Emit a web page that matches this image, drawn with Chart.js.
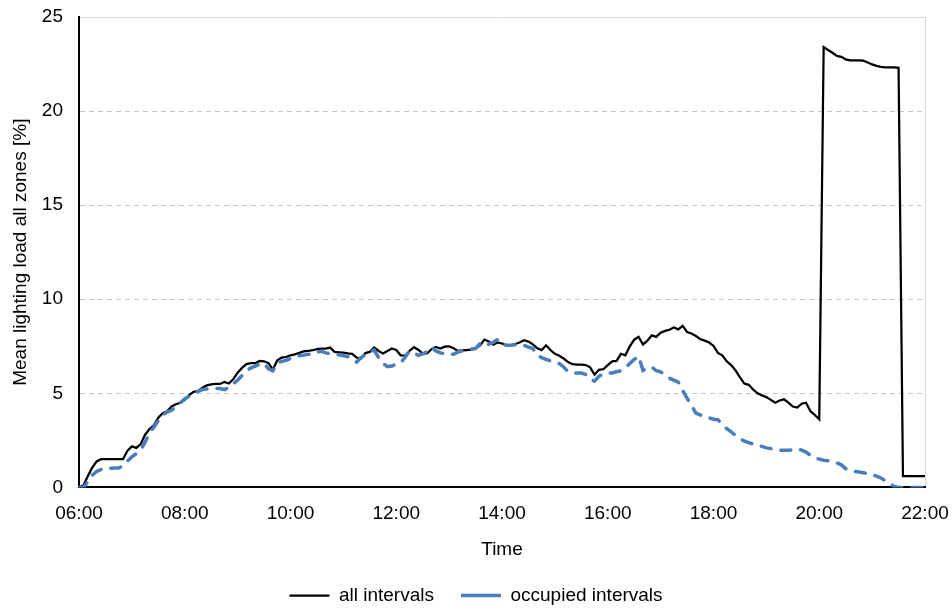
<!DOCTYPE html>
<html><head><meta charset="utf-8">
<script src="https://cdn.jsdelivr.net/npm/chart.js@4/dist/chart.umd.min.js"></script>
<style>html,body{margin:0;padding:0;background:#fff}#wrap{width:952px;height:610px;position:relative}</style>
</head><body><div id="wrap"><canvas id="c"></canvas></div>
<script>
// x categories: 5-minute intervals from 06:00 to 22:00
const startHour = 6, endHour = 22, stepMinutes = 5;
const times = [];
for (let m = startHour * 60; m <= endHour * 60; m += stepMinutes) {
  times.push(String(Math.floor(m / 60)).padStart(2, '0') + ':' + String(m % 60).padStart(2, '0'));
}
const xTickLabels = ["06:00","08:00","10:00","12:00","14:00","16:00","18:00","20:00","22:00"];
const yTicks = [0, 5, 10, 15, 20, 25];

const allIntervals = [
  0, 0.1, 0.6, 1.05, 1.38, 1.5, 1.5, 1.5, 1.5, 1.5,
  1.5, 1.95, 2.18, 2.1, 2.3, 2.8, 3.1, 3.3, 3.7, 3.95,
  4.05, 4.3, 4.42, 4.5, 4.65, 4.9, 5.08, 5.12, 5.3, 5.42,
  5.48, 5.5, 5.5, 5.6, 5.52, 5.75, 6.1, 6.35, 6.55, 6.6,
  6.6, 6.72, 6.7, 6.6, 6.26, 6.75, 6.9, 6.93, 7.02, 7.07,
  7.15, 7.23, 7.25, 7.29, 7.35, 7.38, 7.38, 7.43, 7.2, 7.18,
  7.16, 7.12, 7.1, 6.9, 6.84, 7.14, 7.2, 7.43, 7.25, 7.12,
  7.25, 7.38, 7.3, 7.02, 7.0, 7.25, 7.45, 7.32, 7.11, 7.12,
  7.35, 7.46, 7.38, 7.48, 7.5, 7.4, 7.25, 7.28, 7.3, 7.32,
  7.4, 7.55, 7.86, 7.76, 7.58, 7.7, 7.65, 7.55, 7.55, 7.62,
  7.7, 7.82, 7.75, 7.6, 7.4, 7.3, 7.55, 7.3, 7.1, 7.0,
  6.85, 6.66, 6.55, 6.52, 6.52, 6.5, 6.38, 5.99, 6.25, 6.28,
  6.5, 6.7, 6.72, 7.1, 7.02, 7.5, 7.85, 8.0, 7.6, 7.8,
  8.08, 8.0, 8.22, 8.32, 8.38, 8.5, 8.4, 8.58, 8.26, 8.18,
  8.05, 7.88, 7.8, 7.7, 7.52, 7.15, 7.02, 6.7, 6.5, 6.22,
  5.85, 5.52, 5.45, 5.2, 5.0, 4.89, 4.8, 4.65, 4.5, 4.62,
  4.68, 4.5, 4.3, 4.24, 4.45, 4.5, 4.05, 3.85, 3.62, 23.4,
  23.25, 23.1, 22.93, 22.88, 22.75, 22.7, 22.7, 22.7, 22.68, 22.58,
  22.48, 22.4, 22.35, 22.32, 22.32, 22.32, 22.3, 0.6, 0.6, 0.6,
  0.6, 0.6, 0.6
];

const occupiedIntervals = [
  0, 0, 0.3, 0.65, 0.85, 0.95, 1.0, 1.02, 1.03, 1.03,
  1.15, 1.4, 1.62, 1.8, 2.0, 2.4, 2.9, 3.2, 3.55, 3.85,
  4.0, 4.1, 4.3, 4.5, 4.7, 4.85, 4.98, 5.1, 5.2, 5.23,
  5.25, 5.25, 5.25, 5.2, 5.3, 5.5, 5.7, 5.95, 6.2, 6.35,
  6.45, 6.55, 6.6, 6.3, 6.2, 6.6, 6.7, 6.75, 6.85, 6.95,
  7.0, 7.03, 7.07, 7.1, 7.2, 7.23, 7.15, 7.1, 7.07, 7.05,
  7.0, 6.95, 6.85, 6.66, 6.9, 7.05, 7.2, 7.3, 6.9, 6.6,
  6.42, 6.45, 6.55, 6.62, 6.9, 7.25, 7.15, 7.02, 7.1, 7.2,
  7.43, 7.25, 7.15, 7.1, 7.07, 7.07, 7.2, 7.25, 7.3, 7.35,
  7.38, 7.65, 7.72, 7.6, 7.7, 7.86, 7.62, 7.55, 7.55, 7.58,
  7.58, 7.55, 7.45, 7.38, 7.02, 6.9, 6.8, 6.72, 6.65, 6.58,
  6.4, 6.15, 6.1, 6.08, 6.08, 6.0, 5.75, 5.65, 5.9, 6.05,
  6.08, 6.08, 6.15, 6.2, 6.35, 6.58, 6.8, 6.97, 6.22, 6.35,
  6.4, 6.2, 6.15, 5.96, 5.8, 5.7, 5.6, 5.15, 4.75, 4.36,
  3.95, 3.85, 3.75, 3.7, 3.62, 3.6, 3.35, 3.12, 2.95, 2.77,
  2.6, 2.46, 2.38, 2.3, 2.22, 2.18, 2.1, 2.06, 2.0, 1.98,
  1.97, 1.97, 2.0, 2.05, 1.98, 1.88, 1.7, 1.56, 1.5, 1.44,
  1.42, 1.38, 1.3, 1.2, 1.0, 0.92, 0.85, 0.82, 0.78, 0.73,
  0.68, 0.6, 0.5, 0.35, 0.2, 0.05, 0, 0, 0, 0,
  0, 0, 0
];

const FONT = "'Liberation Sans', Arial, sans-serif";
const FS = 19;

new Chart(document.getElementById('c'), {
  type: 'line',
  data: {
    labels: times,
    datasets: [
      {
        label: 'all intervals',
        data: allIntervals,
        borderColor: '#000000',
        backgroundColor: '#000000',
        borderWidth: 2.25,
        pointRadius: 0,
        pointStyle: 'line',
        tension: 0,
        order: 2
      },
      {
        label: 'occupied intervals',
        data: occupiedIntervals,
        borderColor: '#4a7ebb',
        backgroundColor: '#4a7ebb',
        borderWidth: 3.5,
        borderDash: [10, 10],
        borderCapStyle: 'round',
        pointRadius: 0,
        pointStyle: 'line',
        tension: 0,
        order: 1
      }
    ]
  },
  options: {
    responsive: true,
    maintainAspectRatio: false,
    animation: false,
    layout: { padding: { top: 17, right: 0, left: 0, bottom: 0 } },
    plugins: {
      tooltip: { enabled: false },
      legend: {
        position: 'bottom',
        maxHeight: 51,
        labels: {
          usePointStyle: true,
          pointStyleWidth: 40,
          padding: 27,
          color: '#000',
          font: { family: FONT, size: FS },
          sort: (a, b) => a.datasetIndex - b.datasetIndex
        }
      }
    },
    scales: {
      x: {
        type: 'category',
        offset: false,
        grid: {
          drawTicks: false,
          color: (ctx) => (ctx.index === times.length - 1 ? '#d9d9d9' : 'rgba(0,0,0,0)'),
          lineWidth: 1
        },
        border: { display: true, color: '#000', width: 2 },
        ticks: {
          autoSkip: false,
          maxRotation: 0,
          minRotation: 0,
          padding: 15,
          color: '#000',
          font: { family: FONT, size: FS },
          callback: function (value, index) {
            const lbl = times[index];
            return xTickLabels.includes(lbl) ? lbl : '';
          }
        },
        title: {
          display: true,
          text: 'Time',
          color: '#000',
          font: { family: FONT, size: FS },
          padding: { top: -2, bottom: -2 }
        },
        afterFit: (scale) => { scale.paddingRight = 27; scale.paddingLeft = 0; }
      },
      y: {
        min: 0,
        max: 25,
        afterBuildTicks: (scale) => { scale.ticks = yTicks.map(v => ({ value: v })); },
        grid: {
          drawTicks: false,
          color: (ctx) => (ctx.tick && ctx.tick.value === 0 ? 'rgba(0,0,0,0)' : (ctx.tick && ctx.tick.value === 25 ? '#d9d9d9' : '#c6c6c6')),
          lineWidth: 1
        },
        border: {
          display: true,
          color: '#000',
          width: 2,
          dash: (ctx) => (ctx.tick && ctx.tick.value === 25 ? [] : [5, 4])
        },
        ticks: {
          padding: 16,
          color: '#000',
          font: { family: FONT, size: FS }
        },
        title: {
          display: true,
          text: 'Mean lighting load all zones [%]',
          color: '#000',
          font: { family: FONT, size: FS },
          padding: { top: 9, bottom: 0 }
        },
        afterFit: (scale) => { scale.width = 79; scale.paddingTop = 0; scale.paddingBottom = 0; }
      }
    }
  }
});
</script>
</body></html>
